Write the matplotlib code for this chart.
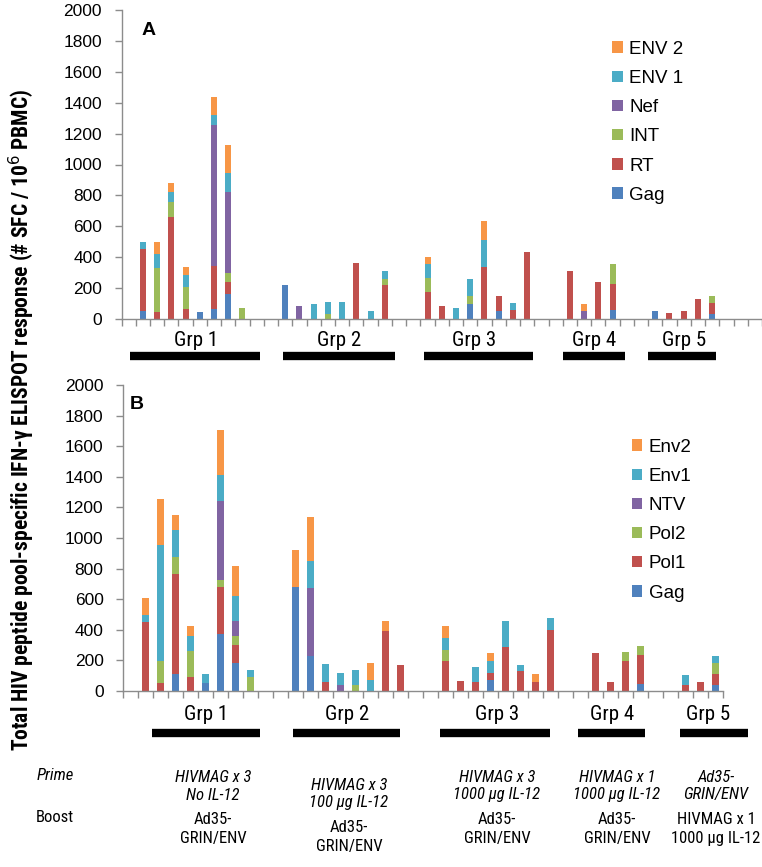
import numpy as np
import matplotlib
matplotlib.use("Agg")
from matplotlib import pyplot as plt
from matplotlib import font_manager

names = set(f.name for f in font_manager.fontManager.ttflist)
narrow = None
for cand in ['Liberation Sans Narrow', 'Roboto Condensed', 'Open Sans Condensed']:
    if cand in names:
        narrow = cand
        break
plt.rcParams['font.family'] = ['Liberation Sans', 'DejaVu Sans']
nfam = [narrow, 'DejaVu Sans'] if narrow else ['Liberation Sans', 'DejaVu Sans']
small = 12 if narrow else 10.5

W, H = 762, 867

# colours (Excel 2007 palette)
cols = ['#4F81BD', '#C0504D', '#9BBB59', '#8064A2', '#4BACC6', '#F79646']

groups = ['Grp 1', 'Grp 2', 'Grp 3', 'Grp 4', 'Grp 5']

# ---- panel A : one value per animal, groups of 8, 8, 8, 4, 5
a_labels = ['Gag', 'RT', 'INT', 'Nef', 'ENV 1', 'ENV 2']
a_sizes = [8, 8, 8, 4, 5]
a_gag = [53, 0, 0, 0, 45, 63, 164, 0,
         223, 0, 0, 0, 0, 0, 0, 0,
         0, 0, 0, 95, 0, 55, 0, 0,
         0, 0, 0, 59,
         51, 0, 0, 0, 30]
a_rt = [400, 45, 660, 65, 0, 278, 76, 0,
        0, 0, 0, 0, 0, 364, 0, 223,
        177, 83, 0, 0, 339, 95, 59, 433,
        309, 0, 242, 170,
        0, 40, 53, 130, 76]
a_int = [0, 285, 95, 142, 0, 0, 60, 73,
         0, 0, 0, 30, 0, 0, 0, 39,
         87, 0, 0, 53, 0, 0, 0, 0,
         0, 0, 0, 126,
         0, 0, 0, 0, 46]
a_nef = [0, 0, 0, 0, 0, 912, 520, 0,
         0, 87, 0, 0, 0, 0, 0, 0,
         0, 0, 0, 0, 0, 0, 0, 0,
         0, 55, 0, 0,
         0, 0, 0, 0, 0]
a_env1 = [45, 90, 70, 75, 0, 65, 122, 0,
          0, 0, 100, 80, 108, 0, 53, 49,
          91, 0, 73, 110, 173, 0, 45, 0,
          0, 0, 0, 0,
          0, 0, 0, 0, 0]
a_env2 = [0, 80, 55, 53, 0, 116, 181, 0,
          0, 0, 0, 0, 0, 0, 0, 0,
          47, 0, 0, 0, 120, 0, 0, 0,
          0, 45, 0, 0,
          0, 0, 0, 0, 0]

# ---- panel B : groups of 8, 8, 8, 4, 3
b_labels = ['Gag', 'Pol1', 'Pol2', 'NTV', 'Env1', 'Env2']
b_sizes = [8, 8, 8, 4, 3]
b_gag = [0, 0, 109, 0, 50, 370, 181, 0,
         677, 231, 0, 0, 0, 0, 0, 0,
         0, 0, 0, 70, 0, 0, 0, 0,
         0, 0, 0, 43,
         0, 0, 39]
b_pol1 = [454, 50, 654, 91, 0, 309, 120, 0,
          0, 0, 58, 0, 0, 0, 395, 168,
          198, 64, 60, 50, 289, 128, 60, 400,
          247, 60, 198, 192,
          39, 58, 72]
b_pol2 = [0, 148, 113, 173, 0, 44, 58, 89,
          0, 0, 0, 0, 37, 0, 0, 0,
          72, 0, 0, 0, 0, 0, 0, 0,
          0, 0, 56, 60,
          0, 0, 70]
b_ntv = [0, 0, 0, 0, 0, 520, 99, 0,
         0, 440, 0, 37, 0, 0, 0, 0,
         0, 0, 0, 0, 0, 0, 0, 0,
         0, 0, 0, 0,
         0, 0, 0]
b_env1 = [44, 758, 176, 95, 60, 169, 160, 51,
          0, 180, 119, 83, 103, 74, 0, 0,
          74, 0, 97, 78, 171, 45, 0, 75,
          0, 0, 0, 0,
          66, 0, 50]
b_env2 = [112, 299, 101, 67, 0, 293, 201, 0,
          243, 288, 0, 0, 0, 107, 65, 0,
          81, 0, 0, 49, 0, 0, 49, 0,
          0, 0, 0, 0,
          0, 0, 0]

prime = ['HIVMAG x 3\nNo IL-12', 'HIVMAG x 3\n100 µg IL-12', 'HIVMAG x 3\n1000 µg IL-12',
         'HIVMAG x 1\n1000 µg IL-12', 'Ad35-\nGRIN/ENV']
boost = ['Ad35-\nGRIN/ENV', 'Ad35-\nGRIN/ENV', 'Ad35-\nGRIN/ENV',
         'Ad35-\nGRIN/ENV', 'HIVMAG x 1\n1000 µg IL-12']


def positions(sizes):
    pos, start = [], 1
    for s in sizes:
        pos += list(range(start, start + s))
        start += s + 2
    return np.array(pos)


def ax_rect(left, right, top, bottom):
    return [left / W, 1 - bottom / H, (right - left) / W, (bottom - top) / H]


def draw_panel(ax, series, labels, sizes, nslots, letter, lx):
    x = positions(sizes)
    bottom = np.zeros(len(x))
    handles = []
    for vals, c, lab in zip(series, cols, labels):
        v = np.array(vals, dtype=float)
        h = ax.bar(x, v, width=0.42, bottom=bottom, color=c, label=lab, linewidth=0)
        handles.append(h)
        bottom += v
    ax.set_xlim(-0.5, nslots - 0.5)
    ax.set_ylim(0, 2000)
    ax.set_yticks(range(0, 2001, 200))
    ax.set_xticks(np.arange(-0.5, nslots, 1.0))
    ax.set_xticklabels([])
    for s in ['top', 'right']:
        ax.spines[s].set_visible(False)
    for s in ['left', 'bottom']:
        ax.spines[s].set_color('#8c8c8c')
        ax.spines[s].set_linewidth(1.0)
    ax.tick_params(axis='both', colors='#8c8c8c', length=5, width=1.0, direction='out',
                   labelcolor='black', labelsize=12.5)
    ax.tick_params(axis='y', pad=9)
    ax.text(lx, 0.935, letter, transform=ax.transAxes, fontsize=14, fontweight='bold',
            va='center', ha='left')
    return handles


fig = plt.figure(figsize=(W / 100, H / 100), dpi=100)

axA = fig.add_axes(ax_rect(121.5, 762, 10, 319))
hA = draw_panel(axA, [a_gag, a_rt, a_int, a_nef, a_env1, a_env2], a_labels, a_sizes, 45,
                'A', 0.032)
axA.legend(hA[::-1], a_labels[::-1], loc='upper left', bbox_to_anchor=(0.74, 0.955),
           frameon=False, fontsize=13.5, handlelength=0.55, handleheight=0.55,
           handletextpad=0.35, labelspacing=0.65)

axB = fig.add_axes(ax_rect(123, 723, 385, 691))
hB = draw_panel(axB, [b_gag, b_pol1, b_pol2, b_ntv, b_env1, b_env2], b_labels, b_sizes, 40,
                'B', 0.012)
axB.legend(hB[::-1], b_labels[::-1], loc='upper left', bbox_to_anchor=(0.82, 0.88),
           frameon=False, fontsize=13.5, handlelength=0.55, handleheight=0.55,
           handletextpad=0.35, labelspacing=0.65)


def ftext(x, y, s, **kw):
    fig.text(x / W, 1 - y / H, s, **kw)


def fbar(x0, x1, y):
    fig.add_artist(plt.Line2D([x0 / W, x1 / W], [1 - y / H, 1 - y / H], color='black',
                              linewidth=6, solid_capstyle='butt'))


# group labels and black bars, panel A
a_lab_x = [196, 339, 474, 594, 684]
a_bars = [(130, 260), (283, 395), (424, 533), (563, 625), (648, 716)]
for g, xc, (x0, x1) in zip(groups, a_lab_x, a_bars):
    ftext(xc, 340, g, ha='center', va='center', fontsize=15, family=nfam)
    fbar(x0, x1, 356)

b_lab_x = [206, 347, 497, 612, 708]
b_bars = [(152, 260), (293, 400), (440, 550), (578, 645), (680, 748)]
for g, xc, (x0, x1) in zip(groups, b_lab_x, b_bars):
    ftext(xc, 714, g, ha='center', va='center', fontsize=15, family=nfam)
    fbar(x0, x1, 733)

# regimen text
ftext(55, 775, 'Prime', ha='center', va='center', fontsize=small, style='italic', family=nfam)
ftext(55, 818, 'Boost', ha='center', va='center', fontsize=small, family=nfam)
col_x = [213, 349, 497, 617, 716]
for i, (xc, p, b) in enumerate(zip(col_x, prime, boost)):
    dy = 8 if i == 1 else 0
    ftext(xc, 786 + dy, p, ha='center', va='center', fontsize=small, style='italic',
          linespacing=1.25, family=nfam)
    ftext(xc, 829 + dy, b, ha='center', va='center', fontsize=small,
          linespacing=1.25, family=nfam)

ftext(22, 420, 'Total HIV peptide pool-specific IFN-γ ELISPOT response (# SFC / 10$^{6}$ PBMC)',
      rotation=90, ha='center', va='center', fontsize=15.5 if narrow else 13,
      fontweight='bold', family=nfam)

fig.savefig('out.png', dpi=100)
